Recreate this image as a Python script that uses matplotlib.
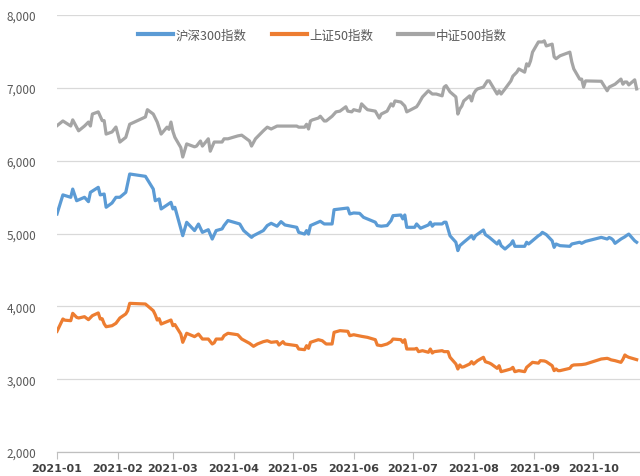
import matplotlib
matplotlib.use("Agg")
import matplotlib.pyplot as plt
import matplotlib.dates as mdates
import pandas as pd

plt.rcParams['font.family'] = ['Noto Sans CJK SC', 'DejaVu Sans']

# 沪深300指数
hs300_dates = ["01-04", "01-07", "01-11", "01-12", "01-14", "01-18", "01-20", "01-21", "01-25", "01-26",
               "01-28", "01-29", "02-01", "02-03", "02-05", "02-08", "02-10", "02-18", "02-22", "02-23",
               "02-25", "02-26", "03-03", "03-04", "03-05", "03-09", "03-11", "03-15", "03-17", "03-19",
               "03-22", "03-24", "03-26", "03-29", "03-30", "04-01", "04-07", "04-09", "04-12", "04-13",
               "04-14", "04-19", "04-21", "04-23", "04-26", "04-28", "04-30", "05-06", "05-07", "05-10",
               "05-11", "05-12", "05-13", "05-17", "05-18", "05-20", "05-24", "05-25", "05-28", "06-01",
               "06-02", "06-04", "06-07", "06-09", "06-11", "06-15", "06-16", "06-18", "06-21", "06-23",
               "06-24", "06-28", "06-29", "06-30", "07-01", "07-05", "07-06", "07-08", "07-12", "07-13",
               "07-14", "07-15", "07-19", "07-20", "07-21", "07-22", "07-23", "07-26", "07-27", "07-28",
               "07-30", "08-02", "08-03", "08-04", "08-05", "08-09", "08-10", "08-12", "08-16", "08-17",
               "08-18", "08-20", "08-23", "08-24", "08-25", "08-30", "08-31", "09-01", "09-06", "09-07",
               "09-08", "09-10", "09-13", "09-14", "09-15", "09-17", "09-22", "09-23", "09-27", "09-28",
               "09-30", "10-08", "10-11", "10-12", "10-13", "10-14", "10-15", "10-18", "10-19", "10-20",
               "10-21", "10-22", "10-25", "10-26"]
hs300 = [5268, 5530, 5497, 5610, 5450, 5497, 5437, 5565, 5634, 5530,
         5542, 5360, 5419, 5497, 5497, 5565, 5817, 5785, 5610, 5450,
         5474, 5337, 5428, 5337, 5360, 4970, 5154, 5040, 5130, 5016,
         5052, 4924, 5040, 5063, 5109, 5178, 5131, 5040, 4970, 4947,
         4970, 5040, 5109, 5140, 5100, 5163, 5117, 5085, 5016, 4992,
         5040, 4992, 5109, 5155, 5168, 5131, 5131, 5327, 5337, 5350,
         5268, 5282, 5277, 5222, 5200, 5155, 5109, 5100, 5109, 5178,
         5245, 5254, 5200, 5254, 5085, 5085, 5131, 5072, 5117, 5155,
         5100, 5131, 5131, 5155, 5155, 5063, 4970, 4880, 4765, 4833,
         4880, 4947, 4970, 4924, 4970, 5048, 4985, 4947, 4856, 4900,
         4833, 4787, 4856, 4900, 4824, 4824, 4880, 4856, 4970, 4985,
         5016, 4985, 4900, 4810, 4856, 4833, 4824, 4856, 4880, 4865,
         4892, 4947, 4924, 4945, 4933, 4910, 4865, 4924, 4940, 4955,
         4975, 4992, 4900, 4880]

# 上证50指数
sz50_dates = ["01-04", "01-07", "01-08", "01-11", "01-12", "01-14", "01-15", "01-18", "01-20", "01-22",
              "01-25", "01-26", "01-27", "01-28", "01-29", "02-01", "02-03", "02-05", "02-08", "02-09",
              "02-10", "02-18", "02-22", "02-23", "02-24", "02-25", "02-26", "03-01", "03-03", "03-04",
              "03-05", "03-08", "03-09", "03-11", "03-15", "03-17", "03-19", "03-22", "03-24", "03-25",
              "03-26", "03-29", "03-30", "04-01", "04-06", "04-08", "04-12", "04-14", "04-16", "04-19",
              "04-21", "04-23", "04-26", "04-27", "04-29", "04-30", "05-06", "05-07", "05-10", "05-11",
              "05-12", "05-13", "05-17", "05-19", "05-21", "05-24", "05-25", "05-28", "06-01", "06-02",
              "06-04", "06-08", "06-11", "06-15", "06-16", "06-18", "06-21", "06-23", "06-24", "06-28",
              "06-29", "06-30", "07-01", "07-05", "07-06", "07-07", "07-09", "07-12", "07-13", "07-14",
              "07-15", "07-19", "07-20", "07-22", "07-23", "07-26", "07-27", "07-28", "07-29", "07-30",
              "08-02", "08-03", "08-04", "08-06", "08-09", "08-10", "08-12", "08-13", "08-16", "08-17",
              "08-18", "08-20", "08-23", "08-24", "08-25", "08-27", "08-30", "08-31", "09-01", "09-03",
              "09-06", "09-07", "09-09", "09-10", "09-13", "09-14", "09-15", "09-16", "09-17", "09-22",
              "09-23", "09-24", "09-28", "09-30", "10-08", "10-11", "10-12", "10-13", "10-15", "10-18",
              "10-19", "10-20", "10-21", "10-22", "10-25", "10-26"]
sz50 = [3657, 3826, 3810, 3803, 3904, 3849, 3840, 3858, 3817, 3872,
        3909, 3826, 3830, 3760, 3720, 3734, 3767, 3840, 3895, 3940,
        4041, 4032, 3940, 3885, 3812, 3830, 3757, 3790, 3812, 3734,
        3750, 3620, 3506, 3630, 3584, 3620, 3551, 3551, 3483, 3500,
        3551, 3551, 3597, 3630, 3610, 3551, 3492, 3451, 3483, 3515,
        3528, 3506, 3515, 3469, 3515, 3483, 3460, 3414, 3405, 3460,
        3423, 3506, 3542, 3528, 3483, 3483, 3643, 3666, 3657, 3597,
        3610, 3588, 3574, 3542, 3469, 3460, 3483, 3515, 3551, 3542,
        3506, 3542, 3414, 3414, 3423, 3378, 3391, 3369, 3414, 3359,
        3378, 3391, 3378, 3378, 3300, 3208, 3140, 3195, 3165, 3170,
        3208, 3240, 3208, 3254, 3300, 3240, 3222, 3208, 3149, 3185,
        3103, 3117, 3140, 3162, 3103, 3117, 3103, 3162, 3185, 3231,
        3220, 3254, 3250, 3240, 3185, 3117, 3140, 3117, 3117, 3149,
        3185, 3195, 3200, 3208, 3277, 3286, 3277, 3265, 3254, 3231,
        3272, 3332, 3313, 3300, 3277, 3268]

# 中证500指数
zz500_dates = ["01-04", "01-07", "01-11", "01-12", "01-14", "01-15", "01-18", "01-20", "01-21", "01-22",
               "01-25", "01-27", "01-28", "01-29", "02-01", "02-03", "02-05", "02-08", "02-10", "02-18",
               "02-19", "02-22", "02-24", "02-26", "03-01", "03-02", "03-03", "03-04", "03-05", "03-08",
               "03-09", "03-11", "03-15", "03-16", "03-18", "03-19", "03-22", "03-23", "03-25", "03-29",
               "03-30", "04-01", "04-06", "04-08", "04-12", "04-13", "04-15", "04-19", "04-21", "04-23",
               "04-26", "04-28", "04-30", "05-06", "05-07", "05-10", "05-11", "05-12", "05-13", "05-14",
               "05-17", "05-18", "05-20", "05-21", "05-24", "05-26", "05-28", "05-31", "06-01", "06-03",
               "06-04", "06-07", "06-08", "06-10", "06-11", "06-15", "06-17", "06-18", "06-21", "06-23",
               "06-24", "06-25", "06-28", "06-30", "07-01", "07-05", "07-06", "07-07", "07-09", "07-12",
               "07-14", "07-16", "07-19", "07-20", "07-21", "07-23", "07-26", "07-27", "07-28", "07-29",
               "07-30", "08-02", "08-03", "08-04", "08-05", "08-06", "08-09", "08-11", "08-12", "08-13",
               "08-16", "08-17", "08-18", "08-20", "08-23", "08-24", "08-26", "08-27", "08-30", "08-31",
               "09-01", "09-02", "09-03", "09-06", "09-08", "09-09", "09-10", "09-13", "09-14", "09-15",
               "09-17", "09-22", "09-23", "09-24", "09-27", "09-28", "09-29", "09-30", "10-08", "10-11",
               "10-12", "10-15", "10-18", "10-19", "10-20", "10-21", "10-22", "10-25", "10-26"]
zz500 = [6480, 6545, 6476, 6560, 6460, 6410, 6476, 6530, 6476, 6640,
         6670, 6550, 6550, 6365, 6394, 6462, 6255, 6320, 6500, 6600,
         6700, 6640, 6530, 6365, 6460, 6430, 6530, 6400, 6320, 6180,
         6050, 6230, 6190, 6200, 6270, 6200, 6300, 6130, 6256, 6256,
         6300, 6300, 6340, 6350, 6270, 6200, 6300, 6410, 6460, 6435,
         6475, 6475, 6475, 6475, 6460, 6460, 6500, 6435, 6545, 6560,
         6585, 6610, 6545, 6545, 6610, 6670, 6680, 6740, 6680, 6670,
         6700, 6680, 6780, 6725, 6700, 6680, 6585, 6640, 6680, 6780,
         6750, 6820, 6805, 6750, 6670, 6725, 6740, 6780, 6875, 6960,
         6915, 6915, 6890, 7010, 7030, 6945, 6875, 6640, 6710, 6750,
         6820, 6890, 6820, 6915, 6960, 6985, 7010, 7095, 7095, 7050,
         6915, 6960, 6915, 6985, 7095, 7160, 7215, 7260, 7215, 7330,
         7300, 7370, 7490, 7630, 7630, 7645, 7575, 7600, 7425, 7400,
         7440, 7490, 7355, 7260, 7120, 7120, 7010, 7095, 7090, 6960,
         7010, 7050, 7120, 7050, 7080, 7080, 7040, 7110, 6985]

yticks = [2000, 3000, 4000, 5000, 6000, 7000, 8000]


def to_dates(days):
    return pd.to_datetime(["2021-" + d for d in days])


fig = plt.figure(figsize=(6.4, 4.77), dpi=100)
ax = fig.add_axes([57 / 640, 24 / 477, 1 - 57 / 640, 437 / 477])

ax.plot(to_dates(hs300_dates), hs300, color="#5B9BD5", linewidth=2.3, label="沪深300指数")
ax.plot(to_dates(sz50_dates), sz50, color="#ED7D31", linewidth=2.3, label="上证50指数")
ax.plot(to_dates(zz500_dates), zz500, color="#A5A5A5", linewidth=2.3, label="中证500指数")

start = pd.Timestamp("2021-01-04")
ax.set_xlim(start, start + pd.Timedelta(days=296.7))
ax.set_ylim(2000, 8000)

# month ticks fall on the 4th, like the original date axis
month_ticks = [start + pd.DateOffset(months=i) for i in range(10)]
ax.set_xticks(month_ticks)
ax.xaxis.set_major_formatter(mdates.DateFormatter("%Y-%m"))
ax.tick_params(axis="x", length=5, width=0.8, color="#BFBFBF", pad=3,
               labelsize=8, labelcolor="#404040")
for lab in ax.get_xticklabels():
    lab.set_fontweight("bold")
    lab.set_family(["DejaVu Sans"])

ax.set_yticks(yticks)
ax.set_yticklabels([f"{v:,}" for v in yticks])
ax.tick_params(axis="y", length=0, pad=15, labelsize=8.5, labelcolor="#595959")

ax.grid(axis="y", color="#D9D9D9", linewidth=0.9)
ax.set_axisbelow(True)
for side in ["top", "right", "left"]:
    ax.spines[side].set_visible(False)
ax.spines["bottom"].set_color("#BFBFBF")
ax.spines["bottom"].set_linewidth(0.9)

leg = ax.legend(loc="upper center", bbox_to_anchor=(0.455, 0.995), ncol=3, frameon=False,
                fontsize=9, handlelength=2.8, handletextpad=0.2, columnspacing=2.0)
for t in leg.get_texts():
    t.set_color("#595959")
for h in leg.get_lines():
    h.set_linewidth(3)

fig.savefig("out.png", dpi=100)
